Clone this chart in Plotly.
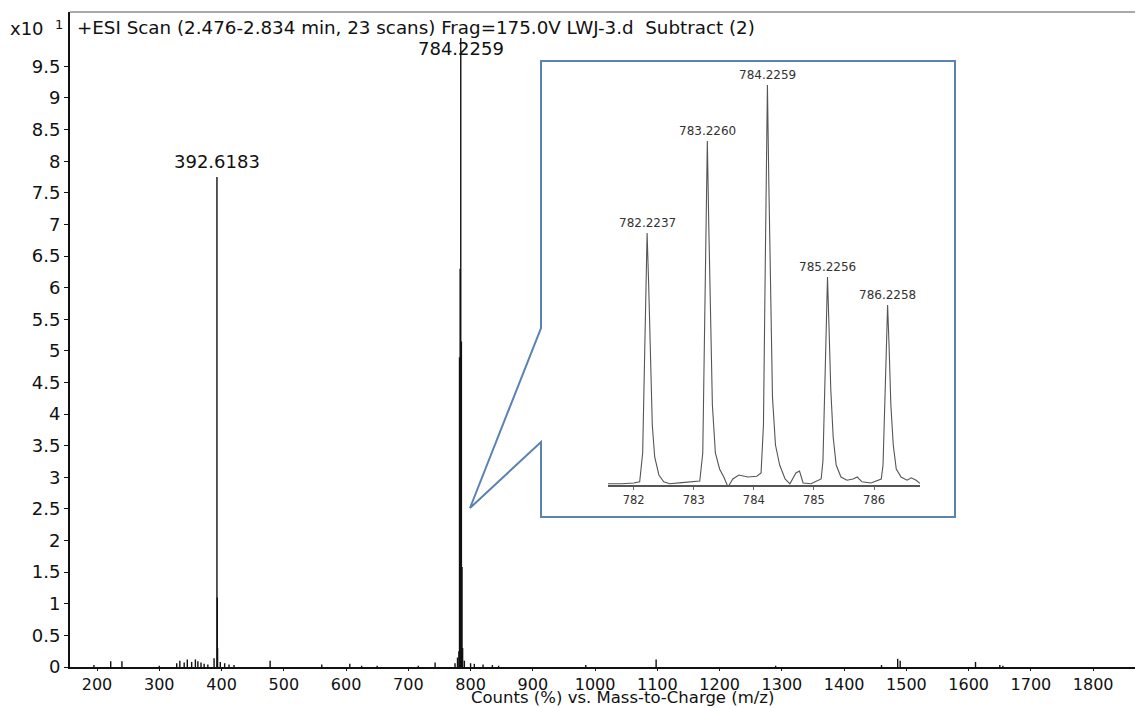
import plotly.graph_objects as go

# ---------------- data ----------------
# main spectrum (m/z, counts in units of 10 %)
main_mz = [195, 222, 240, 300, 328, 333, 340, 345, 352, 358, 362, 367, 372, 378, 388,
           392.6183, 393.12, 393.62, 398, 405, 412, 420, 478, 561, 606, 625, 650, 716,
           743, 775, 779, 781.2, 782.2237, 783.2260, 784.2259, 785.2256, 786.2258, 787.2,
           790, 800, 806, 820, 835, 845, 985, 1098, 1290, 1460, 1486, 1490, 1611, 1650, 1655]
main_int = [0.03, 0.09, 0.09, 0.02, 0.06, 0.10, 0.07, 0.12, 0.08, 0.12, 0.09, 0.07, 0.05, 0.04, 0.14,
            7.75, 1.10, 0.30, 0.08, 0.06, 0.04, 0.03, 0.10, 0.04, 0.05, 0.02, 0.02, 0.02,
            0.07, 0.06, 0.15, 0.25, 4.90, 6.30, 9.95, 5.15, 1.58, 0.30,
            0.10, 0.06, 0.05, 0.04, 0.03, 0.02, 0.03, 0.12, 0.02, 0.03, 0.13, 0.10, 0.08, 0.03, 0.02]
main_labels = ["392.6183", "784.2259"]
main_label_mz = [392.6183, 784.2259]
main_label_int = [7.75, 9.95]

x_ticks = [200, 300, 400, 500, 600, 700, 800, 900, 1000, 1100, 1200, 1300, 1400, 1500, 1600, 1700, 1800]
y_ticks = [0, 0.5, 1, 1.5, 2, 2.5, 3, 3.5, 4, 4.5, 5, 5.5, 6, 6.5, 7, 7.5, 8, 8.5, 9, 9.5]
y_tick_text = ["0", "0.5", "1", "1.5", "2", "2.5", "3", "3.5", "4", "4.5", "5", "5.5", "6",
               "6.5", "7", "7.5", "8", "8.5", "9", "9.5"]

# inset isotope profile (m/z, relative %)
inset_mz = [781.573, 781.80, 782.00, 782.10, 782.15, 782.19, 782.2237, 782.25, 782.28, 782.31,
            782.35, 782.42, 782.50, 782.60, 782.80, 782.95, 783.10,
            783.15, 783.19, 783.2260, 783.25, 783.28, 783.31, 783.36, 783.43, 783.50, 783.57,
            783.65, 783.75, 783.90, 784.05, 784.12,
            784.16, 784.19, 784.2259, 784.25, 784.28, 784.31, 784.36, 784.43, 784.52, 784.60,
            784.70, 784.76, 784.82, 784.95, 785.12,
            785.15, 785.19, 785.2256, 785.25, 785.28, 785.32, 785.37, 785.45, 785.55, 785.65,
            785.72, 785.80, 785.95, 786.12,
            786.15, 786.19, 786.2258, 786.25, 786.28, 786.32, 786.37, 786.45, 786.55, 786.62,
            786.70, 786.765]
inset_int = [0.3, 0.3, 0.5, 0.8, 8, 40, 63, 50, 30, 15,
             7, 2.5, 0.8, 0.3, 0.6, 0.8, 1.0,
             8, 50, 86, 65, 40, 20, 8, 4, 2, -0.5,
             1.5, 2.5, 2.0, 2.2, 3,
             15, 55, 100, 75, 45, 22, 10, 5, 1.5, 0.3,
             3.0, 3.5, 0.5, 0.3, 1.5,
             6, 30, 52, 40, 24, 12, 5, 2, 1.2, 1.5,
             2, 0.8, 0.5, 1.5,
             5, 26, 45, 35, 20, 10, 4, 2, 1.2, 1.8,
             1.2, 0.4]
inset_labels = ["782.2237", "783.2260", "784.2259", "785.2256", "786.2258"]
inset_label_mz = [782.2237, 783.2260, 784.2259, 785.2256, 786.2258]
inset_label_int = [63, 86, 100, 52, 45]
inset_ticks = [782, 783, 784, 785, 786]

# ---------------- layout helpers ----------------
OFF = 8                      # page body margin of the html page
W, H = 1143 - OFF, 708 - OFF
L, R, T, B = 62, 0, 4, 41
PW, PH = W - L - R, H - T - B


def px(x):
    """screen x pixel -> paper coordinate"""
    return (x - OFF - L) / PW


def py(y):
    """screen y pixel -> paper coordinate"""
    return (H - B - (y - OFF)) / PH


FONT = "DejaVu Sans"

# build stick trace
sx, sy = [], []
for m, v in zip(main_mz, main_int):
    sx += [m, m, None]
    sy += [0, v, None]

fig = go.Figure()
fig.add_trace(go.Scatter(x=sx, y=sy, mode="lines", line=dict(color="#111111", width=1.4),
                         hoverinfo="skip", showlegend=False, cliponaxis=False))
fig.add_trace(go.Scatter(x=inset_mz, y=inset_int, mode="lines", xaxis="x2", yaxis="y2",
                         line=dict(color="#555555", width=1.1), hoverinfo="skip",
                         showlegend=False))

annotations = []
# main peak labels
for t, m, v, anchor in zip(main_labels, main_label_mz, main_label_int, ["bottom", "top"]):
    annotations.append(dict(x=m, y=v, xref="x", yref="y", text=t, showarrow=False,
                            yanchor=anchor, yshift=3 if anchor == "bottom" else 2,
                            font=dict(family=FONT, size=18, color="#111111")))
# inset peak labels
for t, m, v in zip(inset_labels, inset_label_mz, inset_label_int):
    annotations.append(dict(x=m, y=v, xref="x2", yref="y2", text=t, showarrow=False,
                            yanchor="bottom", yshift=1,
                            font=dict(family=FONT, size=12, color="#333333")))
# title & axis captions
annotations += [
    dict(x=px(75), y=py(27), xref="paper", yref="paper", xanchor="left", yanchor="middle",
         text="+ESI Scan (2.476-2.834 min, 23 scans) Frag=175.0V LWJ-3.d  Subtract (2)",
         showarrow=False, font=dict(family=FONT, size=18.3, color="#111111")),
    dict(x=px(46), y=py(28), xref="paper", yref="paper", xanchor="right", yanchor="middle",
         text="x10", showarrow=False, font=dict(family=FONT, size=18, color="#111111")),
    dict(x=px(59), y=py(24), xref="paper", yref="paper", xanchor="center", yanchor="middle",
         text="1", showarrow=False, font=dict(family=FONT, size=13, color="#111111")),
    dict(x=px(622), y=py(697), xref="paper", yref="paper", xanchor="center", yanchor="middle",
         text="Counts (%) vs. Mass-to-Charge (m/z)", showarrow=False,
         font=dict(family=FONT, size=16.5, color="#111111")),
]

# callout box path (screen pixels -> paper)
pts = [(541, 328), (541, 61), (955, 61), (955, 517), (541, 517), (541, 442), (470, 508)]
path = "M " + " L ".join(f"{px(a):.5f},{py(b):.5f}" for a, b in pts) + " Z"
shapes = [
    dict(type="path", path=path, xref="paper", yref="paper",
         line=dict(color="#5a82b4", width=2), fillcolor="rgba(0,0,0,0)", layer="above"),
    dict(type="line", x0=0, x1=1, y0=1, y1=1, xref="paper", yref="paper",
         line=dict(color="#555555", width=1)),
]

fig.update_layout(
    width=W, height=H,
    margin=dict(l=L, r=R, t=T, b=B, pad=0),
    paper_bgcolor="white", plot_bgcolor="white",
    font=dict(family=FONT, color="#111111"),
    showlegend=False,
    annotations=annotations,
    shapes=shapes,
    xaxis=dict(range=[156.6, 1880], tickvals=x_ticks, ticks="outside", ticklen=2,
               tickcolor="#111111", showline=True, linecolor="#111111", linewidth=2,
               showgrid=False, zeroline=False, tickfont=dict(family=FONT, size=16),
               fixedrange=True),
    yaxis=dict(range=[0, 10.36], tickvals=y_ticks, ticktext=y_tick_text, ticks="outside",
               ticklen=4, tickcolor="#111111", showline=True, linecolor="#111111",
               linewidth=2, showgrid=False, zeroline=False,
               tickfont=dict(family=FONT, size=18), fixedrange=True),
    xaxis2=dict(domain=[px(608), px(920)], range=[781.573, 786.765], anchor="y2",
                tickvals=inset_ticks, ticks="outside", ticklen=3, tickcolor="#666666",
                showline=True, linecolor="#555555", linewidth=1.5, showgrid=False,
                zeroline=False, tickfont=dict(family=FONT, size=11.5, color="#333333")),
    yaxis2=dict(domain=[py(485), py(65)], range=[0, 105], anchor="x2", visible=False),
)

fig.write_html("out.html")
